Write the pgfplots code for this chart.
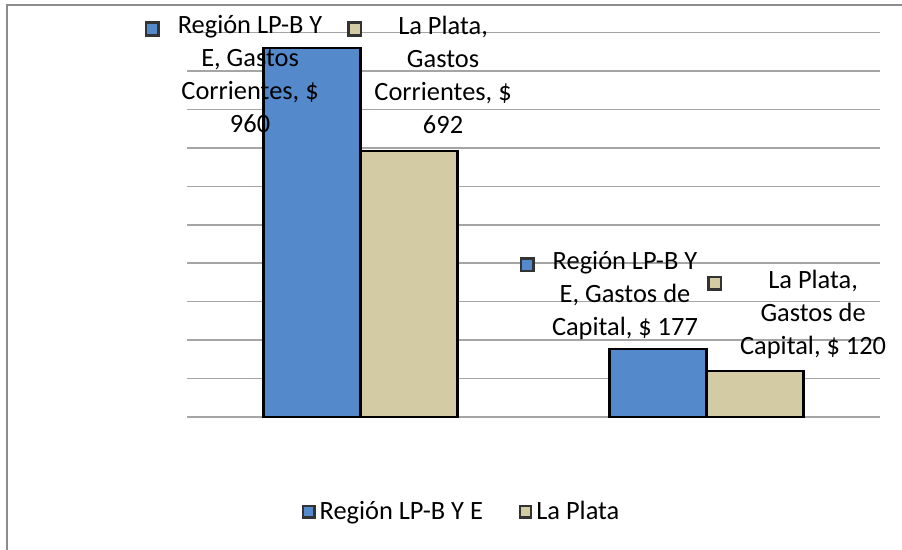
\documentclass[border=0pt]{standalone}
\usepackage{pgfplots}
\pgfplotsset{compat=1.18}
\usepackage{fontspec}
\setmainfont{Carlito}
\definecolor{regblue}{RGB}{84,138,204}
\definecolor{platabeige}{RGB}{210,203,163}
\definecolor{gridgray}{RGB}{165,165,165}
% small legend-key square used inside the data labels
\newcommand{\key}[1]{\raisebox{0pt}{\setlength{\fboxsep}{0pt}\setlength{\fboxrule}{1.3pt}%
  \fcolorbox{black!80}{#1}{\rule{0pt}{5pt}\rule{5pt}{0pt}}}}
\newcommand{\lblfont}{\fontsize{13.2}{16.5}\selectfont}
\pgfplotsset{sqkey/.style={legend image code/.code={%
  \draw[##1,line width=1.1pt,draw=black!80] (0pt,-2.8pt) rectangle (5.6pt,2.8pt);}}}

\begin{document}
\begin{tikzpicture}
\useasboundingbox (0,0) rectangle (451pt,275pt);
\begin{scope}
  \clip (0,0) rectangle (451pt,275pt);
  \draw[gray!90, line width=1.2pt] (3.5pt,-10pt) -- (3.5pt,272.5pt) -- (470pt,272.5pt);
\end{scope}
\begin{axis}[
  at={(93.5pt,66.5pt)}, anchor=south west,
  scale only axis, width=346.5pt, height=192.2pt,
  ybar=0pt, bar width=48.5pt,
  xmin=-0.5, xmax=1.5, ymin=0, ymax=1000,
  ytick={0,100,...,1000}, xtick=\empty, yticklabels={},
  ymajorgrids, grid style={gridgray, line width=0.8pt},
  axis line style={draw=none}, major tick length=0pt,
  legend columns=-1,
  legend style={at={(0.398,-0.247)}, anchor=center, draw=none, fill=none,
    font=\lblfont, /tikz/every even column/.append style={column sep=16pt}},
  clip=false,
]
\addplot[fill=regblue, draw=black, line width=1.3pt, sqkey] coordinates {(0,960) (1,177)};
\addplot[fill=platabeige, draw=black, line width=1.3pt, sqkey] coordinates {(0,692) (1,120)};
\legend{Región LP-B Y E, La Plata}

\node[align=center, inner sep=0pt, font=\lblfont] at (axis cs:-0.318,891)
  {\llap{\key{regblue}\hspace{9pt}}Región LP-B Y\\E, Gastos\\Corrientes, \$\\960};
\node[align=center, inner sep=0pt, font=\lblfont] at (axis cs:0.239,891)
  {\llap{\key{platabeige}\hspace{18pt}}La Plata,\\Gastos\\Corrientes, \$\\692};
\node[align=center, inner sep=0pt, font=\lblfont] at (axis cs:0.764,315)
  {\llap{\key{regblue}\hspace{9pt}}Región LP-B Y\\E, Gastos de\\Capital, \$ 177};
\node[align=center, inner sep=0pt, font=\lblfont] at (axis cs:1.307,267)
  {\llap{\key{platabeige}\hspace{23pt}}La Plata,\\Gastos de\\Capital, \$ 120};
\end{axis}
\end{tikzpicture}
\end{document}
